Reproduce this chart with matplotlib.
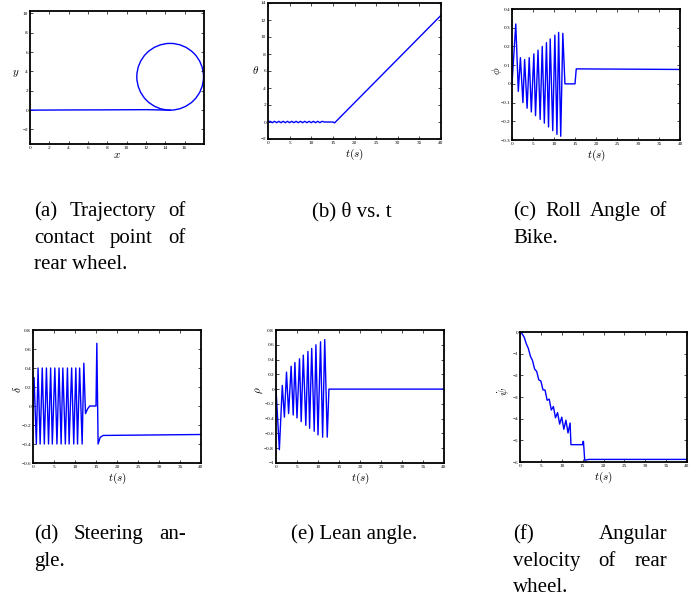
import matplotlib
matplotlib.use('Agg')
import matplotlib.pyplot as plt
from matplotlib.patches import Circle
from matplotlib.ticker import FuncFormatter

plt.rcParams['font.family'] = ['Liberation Serif', 'DejaVu Serif']
plt.rcParams['mathtext.fontset'] = 'cm'

# (a) trajectory of rear wheel contact point
traj_x = [0, 4, 8, 12, 14.5]
traj_y = [0, 0.02, 0.03, 0.05, 0.0]
circle_center = (14.5, 3.45)
circle_radius = 3.45

# (b) theta vs t
theta_t = [0, 0.5, 1.0, 1.5, 2.0, 2.5, 3.0, 3.5, 4.0, 4.5, 5.0, 5.5, 6.0, 6.5,
           7.0, 7.5, 8.0, 8.5, 9.0, 9.5, 10.0, 10.5, 11.0, 11.5, 12.0, 12.5,
           13.0, 15.0, 15.4, 40]
theta_v = [0, 0.08, -0.08, 0.08, -0.08, 0.08, -0.08, 0.08, -0.08, 0.08, -0.08,
           0.08, -0.08, 0.08, -0.08, 0.08, -0.08, 0.08, -0.08, 0.08, -0.08,
           0.08, -0.08, 0.08, -0.08, 0.08, 0.0, 0.0, -0.1, 12.55]

# (c) roll angle
phi_t = [0, 0.9, 1.5, 2.0, 2.6, 3.0, 3.6, 4.1, 4.6, 5.2, 5.6, 6.2, 6.7, 7.2,
         7.7, 8.2, 8.7, 9.1, 9.7, 10.2, 10.7, 11.1, 11.6, 12.1, 12.6, 15.0,
         15.3, 40]
phi_v = [0, 0.32, -0.04, 0.14, -0.10, 0.13, -0.13, 0.14, -0.15, 0.16, -0.17,
         0.18, -0.19, 0.20, -0.21, 0.22, -0.23, 0.24, -0.25, 0.26, -0.27,
         0.275, -0.28, 0.27, 0.0, 0.0, 0.08, 0.077]

# (d) steering angle
delta_t = [0, 0.25, 0.8, 1.2, 1.7, 2.2, 2.7, 3.2, 3.7, 4.2, 4.6, 5.2, 5.7, 6.2,
           6.7, 7.1, 7.7, 8.2, 8.6, 9.2, 9.7, 10.2, 10.6, 11.1, 11.7, 12.1,
           12.5, 13.0, 13.5, 15.0, 15.2, 15.5, 16.0, 16.7, 40]
delta_v = [0, 0.3, -0.4, 0.4, -0.4, 0.4, -0.4, 0.4, -0.4, 0.4, -0.4, 0.4, -0.4,
           0.4, -0.4, 0.4, -0.4, 0.4, -0.4, 0.4, -0.4, 0.4, -0.4, 0.4, -0.4,
           0.45, -0.08, -0.03, 0.0, 0.0, 0.66, -0.4, -0.33, -0.31, -0.3]

# (e) lean angle
rho_t = [0, 0.8, 1.5, 2.0, 2.5, 3.0, 3.6, 4.1, 4.5, 5.0, 5.6, 6.0, 6.5, 7.1,
         7.6, 8.0, 8.5, 9.1, 9.5, 10.0, 10.6, 11.1, 11.6, 12.2, 12.6, 13.0, 40]
rho_v = [0, -0.82, 0.05, -0.38, 0.23, -0.33, 0.31, -0.35, 0.36, -0.39, 0.41,
         -0.44, 0.46, -0.49, 0.51, -0.53, 0.55, -0.57, 0.60, -0.62, 0.64,
         -0.65, 0.67, -0.65, 0.0, 0.0, 0.0]

# (f) angular velocity of rear wheel
psid_t = [0, 0.3, 1.0, 1.5, 2.0, 2.5, 3.0, 3.5, 4.0, 4.5, 5.0, 5.5, 6.0, 6.5,
          7.0, 7.5, 8.0, 8.5, 9.0, 9.5, 10.0, 10.5, 11.0, 11.5, 12.0, 12.2,
          15.0, 15.1, 15.2, 15.5, 16.5, 40]
psid_v = [0, -0.02, -0.24, -0.54, -0.76, -1.12, -1.32, -1.71, -1.82, -2.21,
          -2.26, -2.67, -2.68, -3.15, -3.10, -3.60, -3.44, -3.96, -3.72, -4.25,
          -3.93, -4.49, -4.07, -4.66, -4.2, -5.2, -5.2, -5.05, -5.05, -5.92,
          -5.88, -5.88]

W, H = 697, 598
fig = plt.figure(figsize=(W / 100, H / 100), dpi=100)

fmt = FuncFormatter(lambda v, p: ('%g' % round(v, 6)).replace('-', '\u2212'))


def make_axes(box, xlim, ylim, xticks, yticks, xlabel, ylabel, ylab_pos, yrot):
    # box in pixels: left, top, right, bottom
    l, t, r, b = box
    ax = fig.add_axes([l / W, 1 - b / H, (r - l) / W, (b - t) / H])
    ax.set_xlim(xlim)
    ax.set_ylim(ylim)
    ax.set_xticks(xticks)
    ax.set_yticks(yticks)
    ax.xaxis.set_major_formatter(fmt)
    ax.yaxis.set_major_formatter(fmt)
    ax.tick_params(direction='in', top=True, right=True, length=2.2, width=0.5,
                   labelsize=3.8, pad=1.5)
    for s in ax.spines.values():
        s.set_linewidth(1.3)
    ax.set_xlabel(xlabel, fontsize=8, labelpad=1)
    ax.set_ylabel(ylabel, fontsize=8, rotation=yrot)
    ax.yaxis.set_label_coords(*ylab_pos)
    ax.yaxis.label.set_ha('center')
    ax.yaxis.label.set_va('center')
    return ax


blue = '#0000ff'
t_ticks = [0, 5, 10, 15, 20, 25, 30, 35, 40]

ax = make_axes((30, 11, 204, 144), (0, 18), (-3.5, 10.25),
               [0, 2, 4, 6, 8, 10, 12, 14, 16], [-2, 0, 2, 4, 6, 8, 10],
               '$x$', '$y$', (-0.08, 0.53), 0)
ax.plot(traj_x, traj_y, color=blue, lw=1.0)
ax.add_patch(Circle(circle_center, circle_radius, fill=False, color=blue, lw=1.0))

ax = make_axes((268, 3, 441, 139), (0, 40), (-2, 14), t_ticks,
               [-2, 0, 2, 4, 6, 8, 10, 12, 14], '$t(s)$', r'$\theta$',
               (-0.07, 0.51), 0)
ax.plot(theta_t, theta_v, color=blue, lw=1.0)

ax = make_axes((512, 9, 680, 140), (0, 40), (-0.3, 0.4), t_ticks,
               [-0.3, -0.2, -0.1, 0, 0.1, 0.2, 0.3, 0.4], '$t(s)$', r'$\phi$',
               (-0.09, 0.53), 90)
ax.plot(phi_t, phi_v, color=blue, lw=1.0)

ax = make_axes((33, 330, 201, 463), (0, 40), (-0.6, 0.8), t_ticks,
               [-0.6, -0.4, -0.2, 0, 0.2, 0.4, 0.6, 0.8], '$t(s)$', r'$\delta$',
               (-0.095, 0.55), 90)
ax.plot(delta_t, delta_v, color=blue, lw=1.0)

ax = make_axes((276, 330, 444, 463), (0, 40), (-1, 0.8), t_ticks,
               [-1, -0.8, -0.6, -0.4, -0.2, 0, 0.2, 0.4, 0.6, 0.8], '$t(s)$',
               r'$\rho$', (-0.10, 0.55), 90)
ax.plot(rho_t, rho_v, color=blue, lw=1.0)

ax = make_axes((520, 332, 687, 462), (0, 40), (-6, 0), t_ticks,
               [-6, -5, -4, -3, -2, -1, 0], '$t(s)$', r'$\dot{\psi}$',
               (-0.10, 0.54), 90)
ax.plot(psid_t, psid_v, color=blue, lw=1.0)

# captions (justified like the LaTeX subfigure captions)
cap_kw = dict(fontsize=15, family='Liberation Serif', va='baseline')
renderer = fig.canvas.get_renderer()


def caption_line(words, x0, x1, y, justify=True):
    if not justify:
        fig.text(x0 / W, 1 - y / H, ' '.join(words), **cap_kw)
        return
    texts = [fig.text(0, 1 - y / H, w, **cap_kw) for w in words]
    widths = [tx.get_window_extent(renderer).width for tx in texts]
    gap = (x1 - x0 - sum(widths)) / (len(words) - 1)
    x = x0
    for tx, w in zip(texts, widths):
        tx.set_x(x / W)
        x += w + gap


caption_line(['(a)', 'Trajectory', 'of'], 34, 186, 216)
caption_line(['contact', 'point', 'of'], 34, 186, 243)
caption_line(['rear', 'wheel.'], 34, 186, 269, justify=False)
fig.text(352 / W, 1 - 216 / H, '(b) \u03b8 vs. t', ha='center', **cap_kw)
caption_line(['(c)', 'Roll', 'Angle', 'of'], 513, 667, 216)
caption_line(['Bike.'], 513, 667, 243, justify=False)

caption_line(['(d)', 'Steering', 'an-'], 34, 186, 539)
caption_line(['gle.'], 34, 186, 566, justify=False)
fig.text(354 / W, 1 - 539 / H, '(e) Lean angle.', ha='center', **cap_kw)
caption_line(['(f)', 'Angular'], 513, 667, 539)
caption_line(['velocity', 'of', 'rear'], 513, 667, 566)
caption_line(['wheel.'], 513, 667, 592, justify=False)

fig.savefig('out.png', dpi=100)
